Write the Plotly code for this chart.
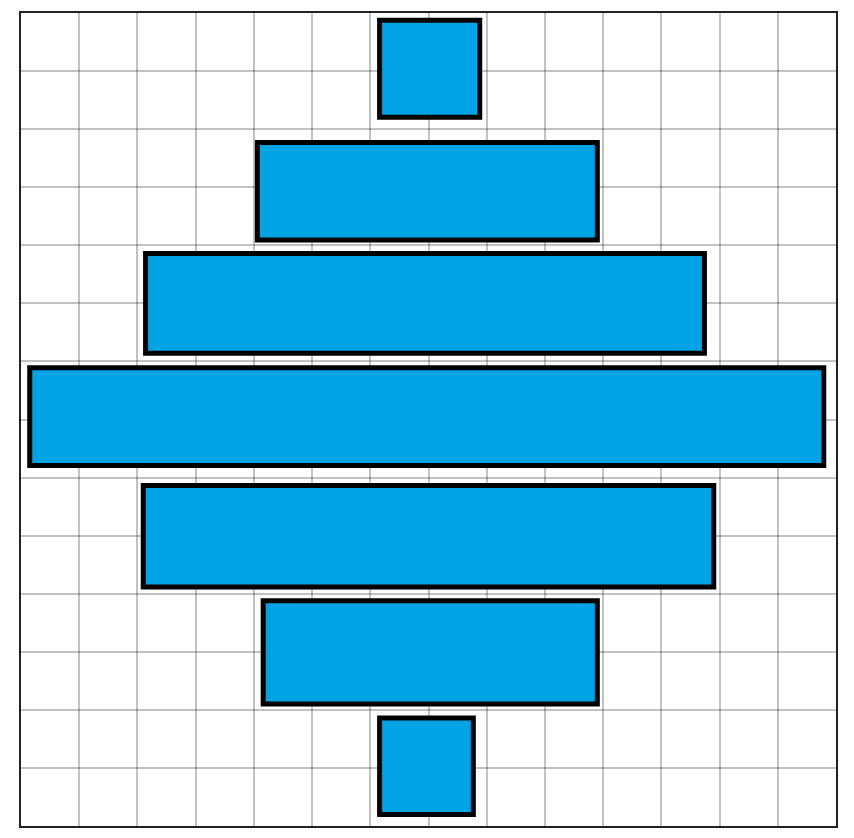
import plotly.graph_objects as go

# Data: measured extents of each bar (grid units), top to bottom
rows = ["r1", "r2", "r3", "r4", "r5", "r6", "r7"]
row_centers = [13.04, 10.93, 9.00, 7.05, 4.99, 2.99, 1.03]
row_heights = [1.67, 1.68, 1.72, 1.68, 1.75, 1.78, 1.66]
left_values = [6.16, 4.06, 2.14, 0.15, 2.10, 4.16, 6.16]
right_values = [7.88, 9.90, 11.74, 13.79, 11.90, 9.90, 7.77]

widths = [r - l for l, r in zip(left_values, right_values)]

fig = go.Figure()
fig.add_trace(go.Bar(
    y=row_centers,
    x=widths,
    base=left_values,
    orientation="h",
    width=row_heights,
    marker=dict(color="#00A3E4", line=dict(color="#000000", width=5)),
    hoverinfo="skip",
    showlegend=False,
))

fig.update_layout(
    width=838, height=828,
    margin=dict(l=13, r=10, t=3, b=10),
    paper_bgcolor="white",
    plot_bgcolor="white",
)
axis_style = dict(
    range=[0, 14], dtick=1, tick0=0, showticklabels=False, ticks="",
    showgrid=True, gridcolor="rgba(0,0,0,0.24)", gridwidth=2,
    zeroline=False, showline=True, linecolor="#222222", linewidth=2, mirror=True,
)
fig.update_xaxes(**axis_style)
fig.update_yaxes(**axis_style)

fig.write_html("out.html")
